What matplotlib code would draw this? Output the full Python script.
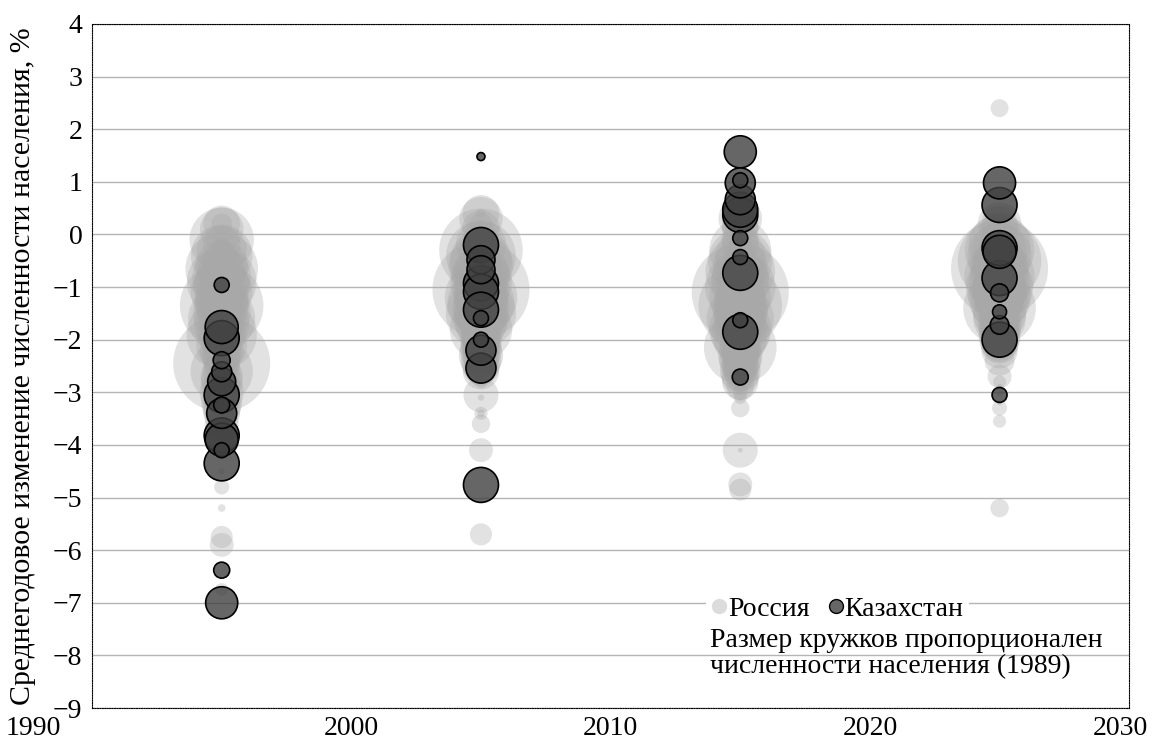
import matplotlib
matplotlib.use("Agg")
import matplotlib.pyplot as plt
from matplotlib.lines import Line2D
from matplotlib.transforms import ScaledTranslation
import numpy as np

plt.rcParams['font.family'] = ['Liberation Serif', 'DejaVu Serif']

# ---------------- data ----------------
periods = [1995, 2005, 2015, 2025]

# Russia: population 1989 (thousand) per region
ru_pop = [8967, 6646, 5020, 4717, 4620, 4292, 3943, 3713, 3641, 3624, 3266, 3171, 2931, 3027,
          2831, 2779, 2690, 2631, 2593, 2470, 2410, 2256, 2170, 2140, 1867, 1824, 1802, 1694,
          1670, 1654, 1654, 1606, 1570, 1504, 1475, 1471, 1400, 1378, 1378, 1354, 1346, 1339,
          1336, 1320, 1317, 1300, 1282, 1270, 1263, 1231, 1165, 1156, 1105, 1094, 1067, 1058,
          1042, 1002, 998, 964, 891, 871, 845, 809, 790, 760, 753, 750, 710, 634, 569, 543,
          495, 466, 432, 418, 323, 309, 216, 192, 164, 160, 136, 77, 55, 54, 39, 24]

ru_1995 = [-2.45, -1.35, -0.65, -1.9, -0.9, -1.6, -0.1, -2.6, -0.4, -1.1, -0.8, -1.5, -1.7, -1.0,
           -1.3, -0.9, -1.2, -0.6, -1.4, -2.1, -0.3, -1.9, -0.7, -1.6, -3.0, -2.2, 0.1, -2.7,
           -2.8, -1.0, -2.0, -1.3, -3.2, -1.8, -1.5, -2.3, -0.9, -0.2, -3.3, -2.0, -2.6, -2.4,
           -1.1, -2.2, -2.9, -0.5, 0.2, -1.7, -3.4, -1.4, -3.9, -2.5, -2.1, -3.6, -1.9, -3.1,
           -1.6, -0.8, -0.6, -2.0, -1.8, -0.4, -3.0, -2.7, -2.8, -0.7, -2.4, -1.2, -3.5, -0.5,
           -1.5, -5.9, -0.9, -5.75, -0.3, 0.2, -2.2, -1.1, -4.8, -0.2, -6.75, -1.9, -1.4, -0.5,
           -5.2, -3.8, -4.5, -3.9]

ru_2005 = [-1.05, -0.3, -1.2, -1.5, -0.4, -1.3, -0.6, -1.8, -0.5, -0.9, -0.8, -1.4, -1.6, -1.1,
           -1.3, -0.7, -1.2, -1.5, -1.0, -1.7, -0.2, -1.6, -0.9, -0.8, -2.3, -1.2, 0.3, -2.2,
           -2.0, -0.7, -1.9, -1.0, -2.4, -1.7, -2.1, -1.6, -1.4, 0.1, -2.0, -1.8, -2.2, -1.9,
           -1.3, -2.3, -2.5, -0.5, 0.4, -0.1, -2.6, -1.1, -3.05, -2.0, -2.2, -1.0, -1.5, -2.4,
           -1.2, -0.6, -0.9, -1.8, -1.4, -0.8, -2.6, -2.1, -2.3, -0.4, -2.0, -1.6, -2.2, -0.9,
           -1.3, -4.1, 0.2, -5.7, -0.6, -0.3, -3.6, -0.5, -1.1, 0.1, -3.4, -2.8, -1.8, 0.4,
           -3.4, -0.9, -3.1, -2.5]

ru_2015 = [-1.1, -1.35, -2.15, -1.0, -0.7, -1.6, -0.5, -1.8, -0.3, -1.2, -0.9, -1.9, -1.4, -0.8,
           -1.5, -0.6, -1.7, -2.0, -1.3, -1.2, -0.4, -1.6, -1.4, -1.0, -2.3, -1.1, 0.3, -2.4,
           -2.2, -0.9, -2.1, -0.8, -2.6, -1.9, -2.0, -1.5, -1.7, -0.2, -2.5, -1.8, -2.3, -1.6,
           -1.0, -2.7, -2.2, -0.1, 0.2, 0.1, -2.8, -1.3, -4.1, -2.4, -2.6, -1.1, -1.2, -2.5,
           -0.7, -0.9, -0.6, -2.1, -1.9, -0.5, -2.7, -2.5, -2.3, -0.4, -2.6, -1.4, -2.9, -0.8,
           -1.5, -4.75, -0.2, -4.85, -1.0, -0.6, -3.3, -0.3, -3.0, -0.1, -2.9, -3.1, -1.8, -0.2,
           -2.7, -1.2, -2.8, -4.1]

ru_2025 = [-0.65, -0.5, -1.4, -0.8, -0.3, -1.0, -0.4, -1.2, -0.2, -0.9, -0.7, -1.3, -1.1, -0.6,
           -1.0, -0.3, -1.5, -1.6, -1.1, -0.8, -0.5, -1.2, -1.3, -0.9, -1.7, -0.7, 0.2, -1.9,
           -1.8, -0.4, -1.6, -0.6, -2.0, -1.5, -1.4, -1.1, -1.3, -0.3, -1.8, -1.4, -1.7, -1.2,
           -0.7, -2.1, -1.9, -0.1, 0.1, 0.2, -2.2, -1.0, -2.0, -1.8, -2.1, -0.8, -0.9, -1.6,
           -0.5, -0.6, -0.8, -1.5, -1.7, -0.2, -2.4, -1.9, -1.8, -0.4, -2.0, -1.2, -1.4, -0.9,
           -1.0, -2.7, -0.3, -1.6, -0.7, -1.1, -5.2, 2.4, -3.3, -0.6, -3.55, -2.8, -1.3, -0.1,
           -3.0, -0.5, -2.9, -3.2]

# Kazakhstan: values and population 1989 (thousand) per period
kz_1995 = [-0.96, -1.76, -1.97, -2.39, -2.61, -2.8, -3.05, -3.24, -3.4, -3.82, -3.9, -4.1, -4.35, -6.38, -7.0]
kz_1995_pop = [214, 1040, 1167, 276, 381, 747, 1167, 244, 858, 1167, 1040, 214, 1167, 244, 980]

kz_2005 = [1.48, -0.2, -0.48, -0.67, -0.93, -1.09, -1.43, -1.59, -2.0, -2.2, -2.54, -4.76]
kz_2005_pop = [61, 1167, 747, 747, 1167, 1167, 1167, 214, 214, 858, 858, 1167]

kz_2015 = [1.57, 1.03, 0.98, 0.66, 0.47, 0.37, -0.07, -0.43, -0.73, -1.63, -1.85, -2.71]
kz_2015_pop = [980, 214, 858, 858, 1167, 1167, 214, 214, 1167, 214, 1167, 244]

kz_2025 = [0.98, 0.56, -0.26, -0.33, -0.83, -1.11, -1.47, -1.72, -2.0, -3.05]
kz_2025_pop = [980, 1167, 1167, 1040, 1167, 310, 187, 330, 1167, 214]

xticks = [1990, 2000, 2010, 2020, 2030]
yticks = list(range(-9, 5))

# ---------------- plotting ----------------
SIZE_SCALE = 0.544  # points^2 per thousand people
FS = 20

fig = plt.figure(figsize=(11.52, 7.49), dpi=100)
ax = fig.add_axes([0.0799, 0.0547, 0.9003, 0.9133])

ru_vals = [ru_1995, ru_2005, ru_2015, ru_2025]
kz_vals = [kz_1995, kz_2005, kz_2015, kz_2025]
kz_pops = [kz_1995_pop, kz_2005_pop, kz_2015_pop, kz_2025_pop]

for per, vals in zip(periods, ru_vals):
    order = np.argsort(ru_pop)[::-1]
    p = np.array(ru_pop)[order]
    v = np.array(vals)[order]
    ax.scatter(np.full(len(v), per), v, s=p * SIZE_SCALE, c='#a8a8a8', alpha=0.33,
               edgecolors='none', zorder=2)

for per, vals, pops in zip(periods, kz_vals, kz_pops):
    order = np.argsort(pops)[::-1]
    p = np.array(pops)[order]
    v = np.array(vals)[order]
    ax.scatter(np.full(len(v), per), v, s=p * SIZE_SCALE, facecolors=(0.25, 0.25, 0.25, 0.8),
               edgecolors='black', linewidths=1.2, zorder=3)

ax.set_xlim(1990, 2030)
ax.set_ylim(-9, 4)
ax.set_xticks(xticks)
ax.set_yticks(yticks)
ax.tick_params(axis='both', length=0, labelsize=FS)
ax.tick_params(axis='x', pad=6)
ax.tick_params(axis='y', pad=7)
ax.yaxis.grid(True, color='#b4b4b4', linewidth=1.0)
ax.xaxis.grid(False)
ax.set_axisbelow(True)
for sp in ax.spines.values():
    sp.set_linestyle((0, (1, 1.2)))
    sp.set_linewidth(0.8)
    sp.set_color('black')

ax.set_ylabel('Среднегодовое изменение численности населения, %', fontsize=21.5)
ax.yaxis.set_label_coords(-0.054, 0.5)

# shift edge x labels like the reference
xlabels = ax.get_xticklabels()
xlabels[0].set_transform(xlabels[0].get_transform() + ScaledTranslation(-59 / 100, 0, fig.dpi_scale_trans))
xlabels[-1].set_transform(xlabels[-1].get_transform() + ScaledTranslation(-9 / 100, 0, fig.dpi_scale_trans))

handles = [
    Line2D([], [], linestyle='none', marker='o', markersize=10, markerfacecolor='#dcdcdc',
           markeredgecolor='#dcdcdc', label='Россия'),
    Line2D([], [], linestyle='none', marker='o', markersize=10, markerfacecolor='#666666',
           markeredgecolor='black', markeredgewidth=1.0, label='Казахстан'),
]
leg = ax.legend(handles=handles, loc='center left', bbox_to_anchor=(0.592, 0.145), ncol=2,
                frameon=True, facecolor='white', edgecolor='none', framealpha=1.0,
                fontsize=FS, handletextpad=0.05, columnspacing=0.65, borderpad=0.2,
                handlelength=0.55, borderaxespad=0)
leg.set_zorder(5)

ax.text(0.596, 0.117, 'Размер кружков пропорционален\nчисленности населения (1989)',
        transform=ax.transAxes, ha='left', va='top', fontsize=FS, linespacing=1.05, zorder=6)

fig.savefig('out.png', dpi=100)
